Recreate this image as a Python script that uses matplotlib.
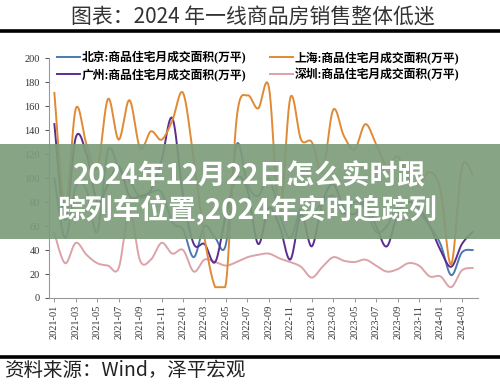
import matplotlib
matplotlib.use("Agg")
import matplotlib.pyplot as plt
import numpy as np
from matplotlib.lines import Line2D
from matplotlib.patches import Rectangle

plt.rcParams['font.family'] = ['Liberation Serif', 'Noto Sans CJK SC', 'DejaVu Sans']

# months 2021-01 .. 2024-04
months = ['%d-%02d' % (2021 + i // 12, i % 12 + 1) for i in range(40)]

beijing = [100, 50, 93, 90, 55, 123, 108, 98, 84, 88, 88, 63, 57, 34, 60, 50, 45, 128, 95, 85,
           100, 70, 50, 75, 70, 80, 85, 70, 80, 75, 55, 60, 75, 65, 70, 60, 45, 19, 38, 40]
shanghai = [171, 75, 158, 128, 108, 166, 132, 165, 125, 139, 132, 148, 171, 115, 50, 9, 12, 150, 169, 158,
            176, 70, 167, 132, 130, 105, 157, 135, 124, 145, 128, 110, 118, 100, 95, 105, 90, 28, 109, 103]
guangzhou = [145, 65, 134, 120, 80, 95, 110, 85, 85, 90, 115, 150, 85, 45, 45, 30, 70, 100, 90, 45,
             75, 60, 32, 70, 43, 80, 95, 75, 70, 80, 60, 43, 70, 80, 75, 60, 40, 26, 45, 55]
shenzhen = [54, 29, 46, 36, 29, 27, 25, 72, 31, 32, 46, 37, 40, 22, 32, 30, 27, 30, 34, 36,
            37, 33, 30, 26, 17, 26, 34, 31, 30, 32, 27, 22, 24, 29, 27, 18, 18, 9, 23, 25]

names = ['北京:商品住宅月成交面积(万平)', '广州:商品住宅月成交面积(万平)',
         '上海:商品住宅月成交面积(万平)', '深圳:商品住宅月成交面积(万平)']
colors = ['#4a7ab0', '#5b2d90', '#e08a35', '#dba3a8']


def smooth(y, n=12):
    # catmull-rom curve through the points, like excel smoothed lines
    y = np.asarray(y, float)
    x = np.arange(len(y), dtype=float)
    xp = np.concatenate([[x[0]], x, [x[-1]]])
    yp = np.concatenate([[y[0]], y, [y[-1]]])
    xs, ys = [], []
    t = np.linspace(0, 1, n, endpoint=False)
    for i in range(len(y) - 1):
        p0, p1, p2, p3 = yp[i], yp[i + 1], yp[i + 2], yp[i + 3]
        q0, q1, q2, q3 = xp[i], xp[i + 1], xp[i + 2], xp[i + 3]
        def cr(a, b, c, d):
            return 0.5 * (2 * b + (c - a) * t + (2 * a - 5 * b + 4 * c - d) * t ** 2 + (3 * b - a - 3 * c + d) * t ** 3)
        xs.append(cr(q0, q1, q2, q3))
        ys.append(cr(p0, p1, p2, p3))
    xs.append([x[-1]])
    ys.append([y[-1]])
    # no dipping under the lowest value
    return np.concatenate(xs), np.clip(np.concatenate(ys), y.min(), None)


fig = plt.figure(figsize=(5, 3.85), dpi=100)
ax = fig.add_axes([0.098, 0.226, 0.858, 0.623])

series = [beijing, guangzhou, shanghai, shenzhen]
order = [3, 0, 1, 2]
handles = [None] * 4
for k in order:
    sx, sy = smooth(series[k])
    handles[k], = ax.plot(sx, sy, color=colors[k], lw=1.4)

ax.set_xlim(-0.5, 39.5)
ax.set_ylim(0, 200)
ax.set_yticks(range(0, 201, 20))
ax.set_xticks(range(0, 40, 2))
ax.set_xticklabels(months[::2], rotation=90, fontsize=7.5, color='#333333')
ax.tick_params(axis='y', labelsize=7.5, colors='#333333', length=3, width=0.6)
ax.tick_params(axis='x', length=3, width=0.6, color='#888888', pad=2)
for s in ['top', 'right']:
    ax.spines[s].set_visible(False)
for s in ['left', 'bottom']:
    ax.spines[s].set_color('#999999')
    ax.spines[s].set_linewidth(0.8)

fig.legend(handles, names, ncol=2, loc='upper left', bbox_to_anchor=(0.1, 1 - 44 / 385),
           frameon=False, prop={'weight': 'bold', 'size': 8.5}, handlelength=1.9,
           columnspacing=2.0, labelspacing=0.35, handletextpad=0.2, borderpad=0.1)

# title and rules
fig.text(0.506, 1 - 17 / 385, '图表：2024 年一线商品房销售整体低迷', ha='center', va='center',
         fontsize=15, color='#333333', family=['Noto Sans CJK SC', 'DejaVu Sans'])
fig.add_artist(Line2D([0, 1], [1 - 31 / 385] * 2, color='black', lw=2.6))
fig.add_artist(Line2D([0, 1], [1 - 356.5 / 385] * 2, color='black', lw=2.6))
fig.text(0.008, 1 - 370 / 385, '资料来源：Wind，泽平宏观', ha='left', va='center',
         fontsize=14, color='#222222', style='italic', family=['Noto Sans CJK SC', 'DejaVu Sans'])

# overlay banner
fig.add_artist(Rectangle((0, 1 - 239 / 385), 1, 95 / 385, transform=fig.transFigure,
                         facecolor='#7d9c7b', alpha=0.92, edgecolor='none'))
fig.text(0.498, 1 - 176 / 385, '2024年12月22日怎么实时跟', ha='center', va='center',
         fontsize=20, weight='bold', color='white', family=['Noto Sans CJK SC', 'DejaVu Sans'])
fig.text(0.495, 1 - 210 / 385, '踪列车位置,2024年实时追踪列', ha='center', va='center',
         fontsize=20, weight='bold', color='white', family=['Noto Sans CJK SC', 'DejaVu Sans'])

fig.savefig('out.png', dpi=100)
